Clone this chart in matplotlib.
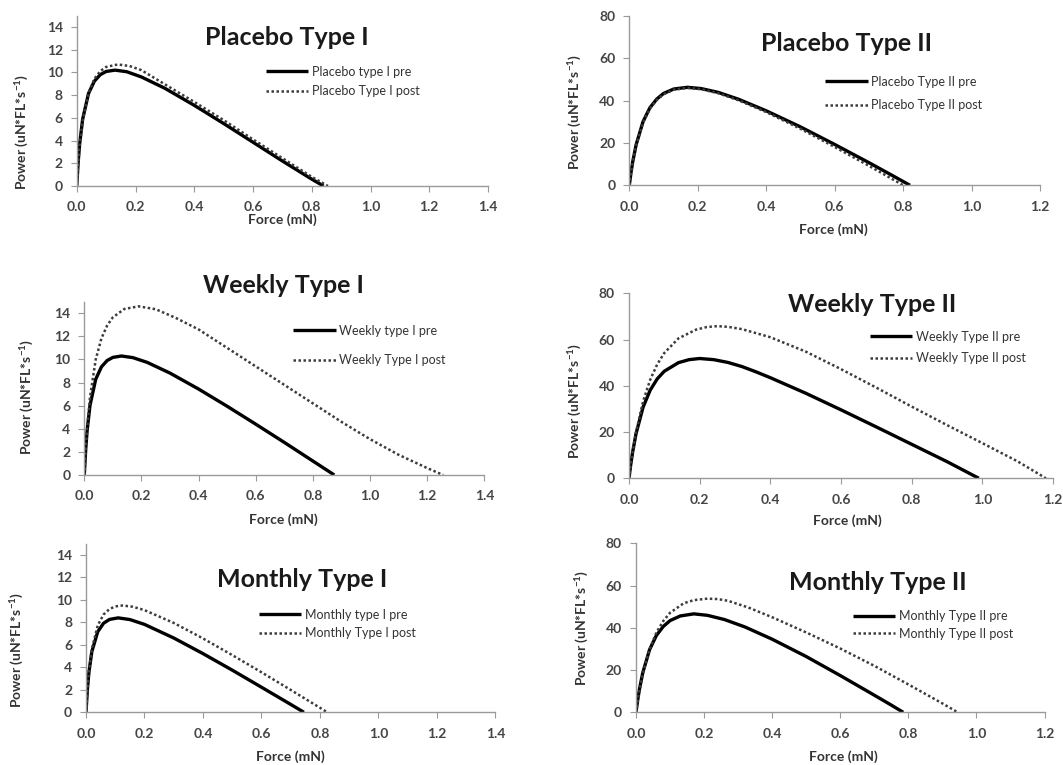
import matplotlib
matplotlib.use("Agg")
import matplotlib.pyplot as plt
from matplotlib.ticker import FormatStrFormatter

plt.rcParams["font.family"] = ["Lato", "DejaVu Sans"]
plt.rcParams["mathtext.default"] = "regular"

# ---- data: force (mN) vs power ----
# Placebo type I
pl1_pre_f = [0, 0.005, 0.01, 0.02, 0.04, 0.06, 0.08, 0.10, 0.13, 0.17, 0.22, 0.3, 0.4, 0.5, 0.6, 0.7, 0.8, 0.84]
pl1_pre_p = [0, 2.15, 3.73, 5.87, 8.14, 9.23, 9.80, 10.08, 10.2, 10.06, 9.6, 8.6, 7.1, 5.5, 3.85, 2.2, 0.6, 0]
pl1_post_f = [0, 0.005, 0.01, 0.02, 0.04, 0.06, 0.08, 0.10, 0.14, 0.18, 0.22, 0.3, 0.4, 0.5, 0.6, 0.7, 0.8, 0.855]
pl1_post_p = [0, 2.02, 3.57, 5.74, 8.19, 9.43, 10.11, 10.48, 10.7, 10.56, 10.2, 8.95, 7.4, 5.8, 4.1, 2.45, 0.8, 0]

# Placebo type II
pl2_pre_f = [0, 0.005, 0.01, 0.02, 0.04, 0.06, 0.08, 0.10, 0.13, 0.17, 0.21, 0.26, 0.32, 0.4, 0.5, 0.6, 0.7, 0.77, 0.82]
pl2_pre_p = [0, 6.0, 11.1, 19.2, 30.0, 36.6, 40.7, 43.4, 45.5, 46.3, 45.7, 43.9, 40.6, 35.2, 27.6, 19.3, 10.7, 4.5, 0]
pl2_post_f = [0, 0.005, 0.01, 0.02, 0.04, 0.06, 0.08, 0.10, 0.13, 0.17, 0.21, 0.26, 0.32, 0.4, 0.5, 0.6, 0.7, 0.76, 0.80]
pl2_post_p = [0, 5.9, 10.9, 18.8, 29.6, 36.2, 40.3, 43.0, 45.2, 46.0, 45.4, 43.5, 40.1, 34.6, 26.7, 18.1, 9.2, 3.7, 0]

# Weekly type I
wk1_pre_f = [0, 0.005, 0.01, 0.02, 0.04, 0.06, 0.08, 0.10, 0.13, 0.17, 0.22, 0.3, 0.4, 0.5, 0.6, 0.7, 0.8, 0.875]
wk1_pre_p = [0, 2.24, 3.86, 6.03, 8.29, 9.36, 9.91, 10.18, 10.3, 10.16, 9.75, 8.82, 7.44, 5.95, 4.40, 2.82, 1.21, 0]
wk1_post_f = [0, 0.005, 0.01, 0.02, 0.04, 0.06, 0.08, 0.10, 0.14, 0.19, 0.25, 0.32, 0.4, 0.5, 0.6, 0.7, 0.8, 0.9, 1.0, 1.1, 1.2, 1.256]
wk1_post_p = [0, 2.26, 4.07, 6.74, 10.0, 11.83, 12.94, 13.65, 14.37, 14.6, 14.35, 13.6, 12.6, 11.0, 9.4, 7.8, 6.2, 4.6, 3.1, 1.75, 0.6, 0]

# Weekly type II
wk2_pre_f = [0, 0.005, 0.01, 0.02, 0.04, 0.06, 0.08, 0.10, 0.14, 0.17, 0.2, 0.24, 0.28, 0.32, 0.36, 0.4, 0.5, 0.6, 0.7, 0.8, 0.9, 0.99]
wk2_pre_p = [0, 5.9, 11.0, 19.3, 30.8, 38.1, 43.0, 46.3, 50.0, 51.3, 51.8, 51.3, 50.1, 48.3, 46.0, 43.5, 36.8, 29.6, 22.2, 14.7, 7.2, 0]
wk2_post_f = [0, 0.005, 0.01, 0.02, 0.04, 0.06, 0.08, 0.10, 0.14, 0.19, 0.22, 0.25, 0.28, 0.32, 0.4, 0.5, 0.6, 0.7, 0.8, 0.9, 1.0, 1.1, 1.18]
wk2_post_p = [0, 5.8, 11.1, 20.0, 33.3, 42.6, 49.3, 54.2, 60.5, 64.3, 65.4, 65.8, 65.5, 64.5, 61.0, 54.8, 47.2, 39.2, 31.0, 23.0, 15.2, 7.3, 0]

# Monthly type I
mo1_pre_f = [0, 0.005, 0.01, 0.02, 0.04, 0.06, 0.08, 0.11, 0.15, 0.2, 0.3, 0.4, 0.5, 0.6, 0.7, 0.745]
mo1_pre_p = [0, 2.11, 3.56, 5.40, 7.16, 7.92, 8.26, 8.4, 8.25, 7.82, 6.61, 5.22, 3.75, 2.23, 0.70, 0]
mo1_post_f = [0, 0.005, 0.01, 0.02, 0.04, 0.06, 0.08, 0.10, 0.125, 0.16, 0.2, 0.3, 0.4, 0.5, 0.6, 0.7, 0.8, 0.825]
mo1_post_p = [0, 2.10, 3.62, 5.64, 7.72, 8.70, 9.18, 9.42, 9.5, 9.39, 9.09, 7.95, 6.57, 5.09, 3.56, 1.99, 0.40, 0]

# Monthly type II
mo2_pre_f = [0, 0.005, 0.01, 0.02, 0.04, 0.06, 0.08, 0.10, 0.13, 0.17, 0.21, 0.26, 0.32, 0.4, 0.5, 0.6, 0.7, 0.75, 0.785]
mo2_pre_p = [0, 5.82, 10.8, 18.8, 29.7, 36.4, 40.6, 43.4, 45.6, 46.6, 45.9, 43.9, 40.4, 34.6, 26.4, 17.4, 8.1, 3.4, 0]
mo2_post_f = [0, 0.005, 0.01, 0.02, 0.04, 0.06, 0.08, 0.10, 0.14, 0.17, 0.21, 0.24, 0.27, 0.33, 0.4, 0.5, 0.6, 0.7, 0.8, 0.9, 0.945]
mo2_post_p = [0, 5.41, 10.2, 18.2, 29.9, 37.8, 43.2, 47.1, 51.6, 53.1, 53.8, 53.6, 52.8, 49.6, 45.0, 37.8, 30.2, 22.0, 13.2, 4.2, 0]

titles = ["Placebo Type I", "Placebo Type II", "Weekly Type I",
          "Weekly Type II", "Monthly Type I", "Monthly Type II"]
pre_labels = ["Placebo type I pre", "Placebo Type II pre", "Weekly type I pre",
              "Weekly Type II pre", "Monthly type I pre", "Monthly Type II pre"]
post_labels = ["Placebo Type I post", "Placebo Type II post", "Weekly Type I post",
               "Weekly Type II post", "Monthly Type I post", "Monthly Type II post"]

curves = [
    (pl1_pre_f, pl1_pre_p, pl1_post_f, pl1_post_p),
    (pl2_pre_f, pl2_pre_p, pl2_post_f, pl2_post_p),
    (wk1_pre_f, wk1_pre_p, wk1_post_f, wk1_post_p),
    (wk2_pre_f, wk2_pre_p, wk2_post_f, wk2_post_p),
    (mo1_pre_f, mo1_pre_p, mo1_post_f, mo1_post_p),
    (mo2_pre_f, mo2_pre_p, mo2_post_f, mo2_post_p),
]

# layout per panel (figure fractions / axes fractions)
rects = [
    [0.0722, 0.7569, 0.3869, 0.2227],
    [0.5920, 0.7578, 0.3864, 0.2213],
    [0.0793, 0.3791, 0.3763, 0.2265],
    [0.5917, 0.3748, 0.3989, 0.2418],
    [0.0809, 0.0689, 0.3852, 0.2204],
    [0.5983, 0.0689, 0.3843, 0.2209],
]
title_pos = [(0.511, 0.874), (0.53, 0.84), (0.499, 1.096),
             (0.573, 0.937), (0.527, 0.785), (0.592, 0.771)]
legend_pos = [(0.460, 0.705), (0.4765, 0.647), (0.522, 0.867),
              (0.568, 0.798), (0.4225, 0.614), (0.531, 0.606)]
legend_space = [0.6, 0.93, 1.4, 0.77, 0.53, 0.45]
ylabel_pos = [(-0.133, 0.317), (-0.132, 0.433), (-0.141, 0.45),
              (-0.127, 0.42), (-0.168, 0.37), (-0.132, 0.5)]
xlabel_pos = [(0.5, -0.2), (0.496, -0.264), (0.497, -0.26),
              (0.514, -0.23), (0.498, -0.265), (0.507, -0.264)]

xticks_1 = [0.0, 0.2, 0.4, 0.6, 0.8, 1.0, 1.2, 1.4]
xticks_2 = [0.0, 0.2, 0.4, 0.6, 0.8, 1.0, 1.2]
yticks_1 = [0, 2, 4, 6, 8, 10, 12, 14]
yticks_2 = [0, 20, 40, 60, 80]

grey = "#9a9a9a"
txt = "#454545"

fig = plt.figure(figsize=(10.63, 7.65), dpi=100)

for i in range(6):
    ax = fig.add_axes(rects[i])
    pre_f, pre_p, post_f, post_p = curves[i]
    ax.plot(pre_f, pre_p, color="black", lw=2.4, label=pre_labels[i],
            solid_capstyle="butt", solid_joinstyle="round")
    ax.plot(post_f, post_p, color="#3c3c3c", lw=1.8, ls=(0, (1, 1)),
            label=post_labels[i])

    type1 = (i % 2 == 0)
    if type1:
        ax.set_xlim(0, 1.4)
        ax.set_ylim(0, 15)
        ax.set_xticks(xticks_1)
        ax.set_yticks(yticks_1)
    else:
        ax.set_xlim(0, 1.2)
        ax.set_ylim(0, 80)
        ax.set_xticks(xticks_2)
        ax.set_yticks(yticks_2)
    ax.xaxis.set_major_formatter(FormatStrFormatter("%.1f"))

    for s in ["top", "right"]:
        ax.spines[s].set_visible(False)
    for s in ["left", "bottom"]:
        ax.spines[s].set_color(grey)
        ax.spines[s].set_linewidth(1.0)
    ax.tick_params(direction="out", length=4, color=grey, labelsize=10,
                   labelcolor=txt)
    ax.tick_params(axis="x", pad=7)
    ax.tick_params(axis="y", pad=6)
    for lab in ax.get_xticklabels() + ax.get_yticklabels():
        lab.set_fontweight("bold")

    ax.set_xlabel("Force (mN)", fontsize=10, fontweight="bold", color="#333333")
    ax.set_ylabel("Power (uN*FL*s$^{-1}$)", fontsize=10, fontweight="bold",
                  color="#333333")
    ax.xaxis.set_label_coords(*xlabel_pos[i])
    ax.yaxis.set_label_coords(*ylabel_pos[i])
    ax.xaxis.label.set_va("center")
    ax.yaxis.label.set_va("center")

    ax.text(title_pos[i][0], title_pos[i][1], titles[i], transform=ax.transAxes,
            ha="center", va="center", fontsize=18, fontweight="bold",
            color="#1a1a1a", clip_on=False)

    ax.legend(loc="upper left", bbox_to_anchor=legend_pos[i], frameon=False,
              fontsize=9, handlelength=3.4, handletextpad=0.3, borderpad=0,
              borderaxespad=0, labelspacing=legend_space[i],
              labelcolor="#333333")

fig.savefig("out.png", dpi=100)
